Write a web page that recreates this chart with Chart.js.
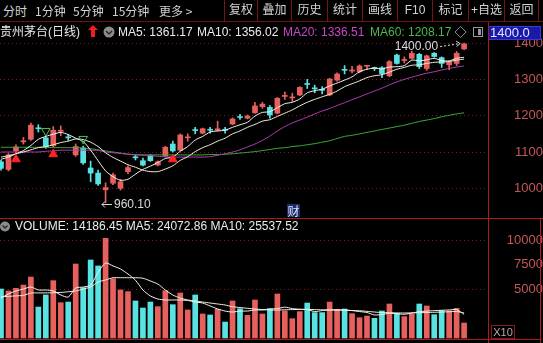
<!DOCTYPE html>
<html>
<head>
<meta charset="utf-8">
<script src="https://cdn.jsdelivr.net/npm/chart.js"></script>
<style>
  body{margin:0;background:#000;overflow:hidden}
  #wrap{position:relative;width:543px;height:343px;background:#000;font-family:"Liberation Sans",Arial,"Noto Sans CJK SC",sans-serif}
  canvas{position:absolute;left:0}
  .t{position:absolute;white-space:nowrap;font-size:12px;line-height:14px;z-index:3}
  .cn{font-family:"Noto Sans CJK SC",sans-serif;color:#d2d2d2}
  .cell{position:absolute;top:0;height:21px;border-left:1px solid #7a1414;color:#d4d4d4;font-size:12px;line-height:21px;text-align:center;font-family:"Liberation Sans","Noto Sans CJK SC",sans-serif;z-index:3}
  .ln{position:absolute;background:#a81c1c;z-index:4}
</style>
</head>
<body>
<div id="wrap">
  <canvas id="priceChart" width="543" height="196" style="top:22px"></canvas>
  <canvas id="volChart" width="543" height="125" style="top:218px"></canvas>

  <!-- toolbar -->
  <span class="t cn" style="left:3px;top:4px">分时</span>
  <span class="t cn" style="left:35px;top:4px">1分钟</span>
  <span class="t cn" style="left:73px;top:4px">5分钟</span>
  <span class="t cn" style="left:112px;top:4px">15分钟</span>
  <span class="t cn" style="left:159px;top:4px">更多 &gt;</span>
  <div id="cells"></div>
  <div class="ln" style="left:0;top:21px;width:543px;height:1px;background:#6e1212"></div>

  <!-- info row -->
  <span class="t" style="left:0;top:25px;color:#e8e8e8">贵州茅台(日线)</span>
  <svg class="t" style="left:88px;top:25px" width="10" height="12"><polygon points="5,0 10,5 7,5 7,12 3,12 3,5 0,5" fill="#f01e1e"/></svg>
  <svg class="t" style="left:103px;top:26px" width="12" height="12"><circle cx="6" cy="6" r="5.5" fill="#8c8c8c"/><polyline points="3,5 6,8 9,5" fill="none" stroke="#2a2a2a" stroke-width="1.5"/></svg>
  <span class="t" style="left:118px;top:25px;color:#ececec">MA5: 1361.17</span>
  <span class="t" style="left:197px;top:25px;color:#ececec">MA10: 1356.02</span>
  <span class="t" style="left:283px;top:25px;color:#c847c8">MA20: 1336.51</span>
  <span class="t" style="left:370px;top:25px;color:#4cb84c">MA60: 1208.17</span>
  <svg class="t" style="left:454px;top:26px" width="13" height="12"><polygon points="6.5,0.5 12,6 6.5,11.5 1,6" fill="none" stroke="#8a8a8a"/></svg>
  <svg class="t" style="left:473px;top:27px" width="11" height="11"><rect x="0.5" y="0.5" width="9" height="9" fill="none" stroke="#9a9a9a"/><rect x="5" y="2" width="3" height="6" fill="#9a9a9a"/></svg>
  <div class="t" style="left:488px;top:26px;width:50px;height:12px;background:#1a1aa6;border:1px solid #3838e0;color:#e4e4ff;font-size:13px;line-height:12px;padding-left:1px">1400.0</div>

  <div class="t cn" style="left:287px;top:204px;width:13px;height:13px;background:#1c2c6c;color:#d8e6ff;line-height:13px;text-align:center">财</div>

  <!-- volume header -->
  <svg class="t" style="left:0;top:221px" width="11" height="11"><circle cx="5" cy="5.5" r="5" fill="#8c8c8c"/><polyline points="2.5,4.5 5,7 7.5,4.5" fill="none" stroke="#2a2a2a" stroke-width="1.5"/></svg>
  <span class="t" style="left:15px;top:219px;color:#ececec">VOLUME: 14186.45 MA5: 24072.86 MA10: 25537.52</span>
  <div class="t" style="left:491px;top:325px;width:22px;height:12px;border:1px solid #8a1a1a;color:#b8a8a8;font-size:11px;line-height:12px;text-align:center">X10</div>

  <!-- frame lines -->
  <div class="ln" style="left:488px;top:22px;width:1px;height:321px"></div>
  <div class="ln" style="left:0;top:218px;width:543px;height:1px"></div>
  <div class="ln" style="left:0;top:339px;width:541px;height:1px"></div>
  <div class="ln" style="left:540px;top:218px;width:1px;height:125px"></div>
</div>

<script>
// daily candles
const opens  = [1073,1052,1103,1128,1135,1166,1139,1117,1157,1141,1092,1111,1056,1042,996,1014,1000,1046,1086,1076,1090,1064,1089,1122,1105,1139,1161,1152,1162,1160,1162,1177,1197,1193,1208,1225,1223,1207,1253,1249,1257,1288,1276,1272,1257,1298,1327,1323,1321,1336,1332,1332,1310,1367,1352,1358,1369,1330,1372,1360,1340,1344,1384];
const closes = [1055,1092,1114,1131,1174,1164,1114,1160,1160,1139,1115,1070,1042,1012,1002,1037,1018,1057,1084,1064,1076,1073,1113,1103,1147,1141,1159,1164,1160,1164,1160,1191,1195,1199,1227,1232,1202,1248,1256,1251,1278,1286,1274,1270,1301,1315,1325,1326,1337,1338,1330,1316,1349,1344,1355,1372,1335,1365,1363,1344,1347,1372,1398];
const highs  = [1078,1096,1120,1140,1180,1175,1142,1170,1172,1148,1122,1116,1075,1050,1015,1042,1025,1062,1092,1083,1093,1076,1116,1130,1150,1150,1168,1166,1168,1185,1168,1194,1204,1202,1237,1237,1228,1250,1265,1262,1280,1300,1284,1280,1303,1318,1338,1336,1340,1338,1334,1335,1352,1370,1362,1378,1372,1367,1374,1362,1349,1377,1400];
const lows   = [1050,1048,1098,1122,1132,1155,1110,1114,1145,1132,1088,1066,1018,1008,960.1,1010,995,1040,1078,1062,1074,1062,1086,1100,1103,1130,1150,1150,1152,1158,1152,1175,1190,1191,1206,1220,1193,1205,1245,1239,1255,1275,1263,1260,1255,1295,1315,1318,1318,1328,1324,1305,1307,1342,1345,1356,1330,1325,1361,1333,1327,1338,1382];

const ma5  = [1080,1086,1095,1104,1118,1135,1143,1149,1154,1148,1138,1129,1105,1076,1048,1032,1022,1025,1039,1052,1061,1071,1082,1086,1102,1115,1133,1143,1155,1158,1160,1168,1175,1182,1199,1209,1211,1222,1233,1237,1246,1263,1269,1273,1282,1290,1298,1307,1321,1328,1331,1329,1334,1335,1338,1353,1351,1354,1358,1352,1351,1358,1361];
const ma10 = [1086,1090,1095,1100,1106,1112,1115,1120,1126,1130,1136,1134,1127,1115,1098,1085,1075,1065,1058,1050,1046,1046,1053,1062,1077,1087,1101,1112,1120,1130,1138,1150,1158,1168,1176,1185,1189,1198,1207,1216,1227,1237,1245,1252,1259,1268,1280,1288,1296,1305,1310,1313,1320,1328,1333,1339,1340,1344,1347,1348,1349,1353,1356];
const ma20 = [1100,1100,1100,1100,1100,1100,1102,1103,1105,1105,1105,1105,1105,1104,1100,1098,1096,1094,1093,1091,1090,1088,1087,1086,1086,1086,1086,1086,1087,1091,1095,1100,1106,1114,1122,1132,1144,1158,1170,1180,1188,1196,1205,1213,1220,1228,1236,1244,1252,1260,1268,1276,1285,1293,1300,1306,1312,1317,1321,1326,1330,1334,1337];
const ma60 = [1113,1113,1113,1113,1113,1113,1113,1112,1112,1112,1112,1111,1109,1106,1103,1100,1097,1094,1092,1092,1092,1092,1092,1092,1092,1092,1092,1092,1093,1093,1094,1095,1097,1099,1101,1104,1107,1110,1112,1115,1117,1120,1123,1127,1131,1137,1143,1146,1150,1154,1158,1162,1166,1170,1174,1179,1184,1188,1192,1197,1201,1205,1208];

// volume (axis units, x10)
const vols    = [5000,4800,5070,5400,6220,3160,4390,5850,3600,3670,7550,5130,7960,7350,10170,6050,4900,4730,3780,3060,3670,3200,4830,3400,4590,2860,4390,2450,2350,2930,1630,3780,2990,2310,3880,2450,2990,4490,2760,1970,2690,3570,2590,2590,3670,2930,2960,2480,2070,2240,2010,2760,3470,2520,2180,2450,3470,3270,2380,2790,2760,3030,1530];
const volMa5  = [4080,4490,4800,5000,5200,4900,4900,4800,4390,4180,5100,5200,5400,6700,7650,7350,7040,6530,5900,4900,4290,3980,3880,3880,3880,3830,3670,3570,3270,2960,2750,2650,2750,2750,2860,2860,2960,3000,3150,3000,2930,2900,2700,2800,2860,2870,2860,2800,2700,2600,2350,2400,2520,2480,2420,2550,2680,2750,2790,2830,2860,2900,2410];
const volMa10 = [4210,4250,4300,4350,4590,4600,4600,4620,4650,4720,4800,5000,5200,5710,5920,6150,6150,6150,6150,6100,5820,5500,4900,4390,4080,3880,3780,3670,3570,3470,3370,3190,3110,3030,2960,2900,2860,2850,2880,2900,2920,2920,2900,2880,2860,2850,2830,2800,2780,2720,2650,2600,2580,2560,2550,2560,2580,2600,2620,2650,2680,2700,2554];

// signal arrows (day index, price level)
const buyDays  = [2, 7, 23];
const buyAt    = [1080, 1094, 1080];
const sellDays = [6, 11];
const sellAt   = [1158, 1136];

const priceTicks = [1000, 1100, 1200, 1300, 1400];
const volTicks   = [5000, 7500, 10000];

const toolItems = ['复权','叠加','历史','统计','画线','F10','标记','+自选','返回'];
const cellEdges = [224,257,291,327,362,397,432,468,504,538];

// toolbar cells
const cells = document.getElementById('cells');
toolItems.forEach((name, i) => {
    const d = document.createElement('div');
    d.className = 'cell';
    d.style.left = cellEdges[i] + 'px';
    d.style.width = (cellEdges[i + 1] - cellEdges[i] - 1) + 'px';
    if (i === toolItems.length - 1) d.style.borderRight = '1px solid #7a1414';
    d.textContent = name;
    cells.appendChild(d);
});

const upColor = '#e6605e';
const downColor = '#58e2e2';
const isUp = closes.map((c, i) => c >= opens[i]);
const candleColors = isUp.map(u => u ? upColor : downColor);
const pts = arr => arr.map((v, i) => ({x: i, y: v}));

const xScale = {type: 'linear', display: false, min: -0.134, max: 65.2, offset: false, grid: {display: false, offset: false}};
const labelFont = {family: 'Liberation Sans', size: 13};
const gridColor = '#7c1c1c';

// low / high labels
const extremes = {
    id: 'extremes',
    afterDatasetsDraw(chart) {
        const {ctx} = chart;
        const x = chart.scales.x, y = chart.scales.y;
        ctx.save();
        ctx.font = '12px "Liberation Sans"';
        ctx.fillStyle = '#dadada';
        ctx.strokeStyle = '#dadada';
        ctx.lineWidth = 1;
        ctx.textBaseline = 'middle';

        const lo = Math.min(...lows), li = lows.indexOf(lo);
        const lx = Math.round(x.getPixelForValue(li)), ly = Math.round(y.getPixelForValue(lo)) + 1.5;
        ctx.beginPath();
        ctx.moveTo(lx + 6, ly); ctx.lineTo(lx - 4, ly);
        ctx.moveTo(lx - 1, ly - 3); ctx.lineTo(lx - 4, ly); ctx.lineTo(lx - 1, ly + 3);
        ctx.stroke();
        ctx.textAlign = 'left';
        ctx.fillText(lo.toFixed(2), lx + 8, ly);

        const hi = Math.max(...highs), hiIdx = highs.indexOf(hi);
        const hx = x.getPixelForValue(hiIdx), hy = y.getPixelForValue(hi);
        ctx.textAlign = 'right';
        ctx.fillText(hi.toFixed(2), hx - 26, hy + 4);
        ctx.setLineDash([2, 2]);
        ctx.beginPath();
        ctx.moveTo(hx - 24, hy + 3.5); ctx.lineTo(hx - 4, hy + 0.5);
        ctx.stroke();
        ctx.setLineDash([]);
        ctx.beginPath();
        ctx.moveTo(hx - 8, hy - 2); ctx.lineTo(hx - 4, hy + 0.5); ctx.lineTo(hx - 7.5, hy + 3.5);
        ctx.stroke();
        ctx.restore();
    }
};

new Chart(document.getElementById('priceChart'), {
    type: 'bar',
    data: {
        datasets: [
            {type: 'line', data: buyDays.map((d, i) => ({x: d, y: buyAt[i]})), showLine: false,
             pointStyle: 'triangle', pointRadius: 5, backgroundColor: '#ff2323', borderColor: '#ff2323', order: 1},
            {type: 'line', data: sellDays.map((d, i) => ({x: d, y: sellAt[i]})), showLine: false,
             pointStyle: 'triangle', rotation: 180, pointRadius: 5, backgroundColor: 'rgba(0,0,0,0)', borderColor: '#52c052', borderWidth: 1, order: 1},
            {type: 'line', data: pts(ma5), borderColor: '#f4f4f4', borderWidth: 1, pointRadius: 0, tension: 0.25, order: 2},
            {type: 'line', data: pts(ma10), borderColor: '#f2f0d8', borderWidth: 1, pointRadius: 0, tension: 0.25, order: 2},
            {type: 'line', data: pts(ma20), borderColor: '#b43cb4', borderWidth: 1, pointRadius: 0, tension: 0.25, order: 3},
            {type: 'line', data: pts(ma60), borderColor: '#3cae3c', borderWidth: 1, pointRadius: 0, tension: 0.25, order: 3},
            {data: opens.map((o, i) => ({x: i, y: [o, closes[i]]})), backgroundColor: candleColors,
             barThickness: 5, grouped: false, minBarLength: 1, order: 4},
            {data: lows.map((l, i) => ({x: i, y: [l, highs[i]]})), backgroundColor: candleColors,
             barThickness: 1, grouped: false, order: 5}
        ]
    },
    options: {
        responsive: false,
        animation: false,
        events: [],
        layout: {padding: 0, autoPadding: false},
        plugins: {legend: {display: false}, tooltip: {enabled: false}},
        scales: {
            x: xScale,
            y: {
                position: 'right', min: 918.2, max: 1458.1,
                afterBuildTicks: s => { s.ticks = priceTicks.map(v => ({value: v})); },
                afterFit: s => { s.width = 55; s.paddingTop = 0; s.paddingBottom = 0; },
                grid: {color: gridColor, drawTicks: false},
                border: {display: false, dash: [1, 3]},
                ticks: {color: '#c65656', font: labelFont, padding: 16, crossAlign: 'far', callback: v => String(v)}
            }
        }
    },
    plugins: [extremes]
});

new Chart(document.getElementById('volChart'), {
    type: 'bar',
    data: {
        datasets: [
            {type: 'line', data: pts(volMa5), borderColor: '#f4f4f4', borderWidth: 1, pointRadius: 0, tension: 0.25, order: 1},
            {type: 'line', data: pts(volMa10), borderColor: '#f2f0d8', borderWidth: 1, pointRadius: 0, tension: 0.25, order: 1},
            {data: pts(vols), backgroundColor: candleColors, barThickness: 5, grouped: false, order: 2}
        ]
    },
    options: {
        responsive: false,
        animation: false,
        events: [],
        layout: {padding: 0, autoPadding: false},
        plugins: {legend: {display: false}, tooltip: {enabled: false}},
        scales: {
            x: xScale,
            y: {
                position: 'right', min: -510, max: 12245,
                afterBuildTicks: s => { s.ticks = volTicks.map(v => ({value: v})); },
                afterFit: s => { s.width = 55; s.paddingTop = 0; s.paddingBottom = 0; },
                grid: {color: ctx => ctx.tick && ctx.tick.value === 7500 ? 'rgba(0,0,0,0)' : gridColor, drawTicks: false},
                border: {display: false, dash: [1, 3]},
                ticks: {color: '#c65656', font: labelFont, padding: 9, crossAlign: 'far', callback: v => String(v)}
            }
        }
    }
});
</script>
</body>
</html>
